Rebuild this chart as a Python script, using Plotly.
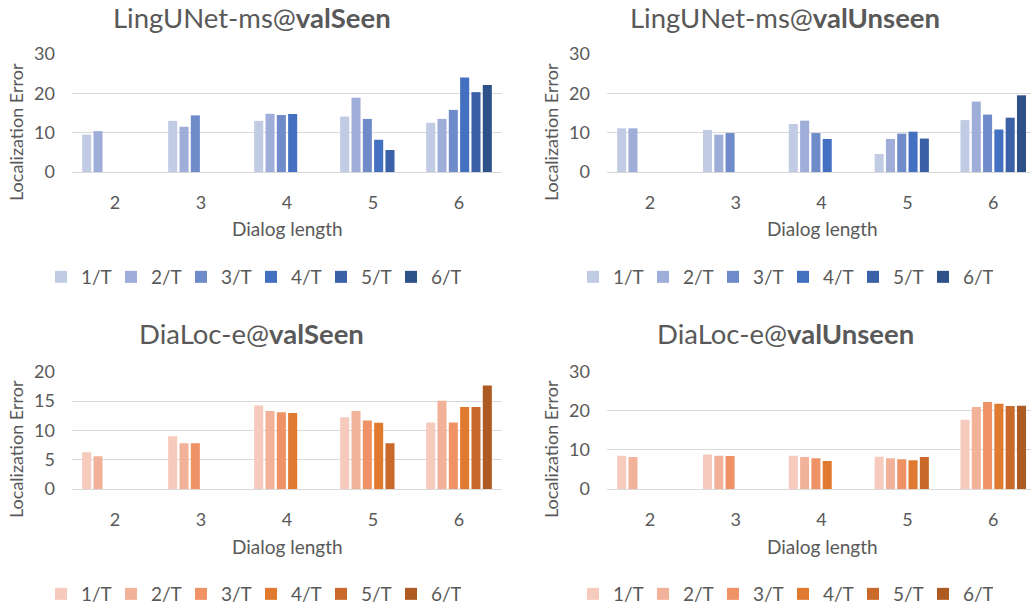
import plotly.graph_objects as go

categories = ["2", "3", "4", "5", "6"]
series_names = ["1/T", "2/T", "3/T", "4/T", "5/T", "6/T"]

# values per series (index = series), across dialog lengths 2..6 (None = not applicable)
lingunet_seen = [
    [9.5, 13.0, 13.0, 14.1, 12.5],
    [10.4, 11.5, 14.8, 18.9, 13.5],
    [None, 14.4, 14.5, 13.5, 15.8],
    [None, None, 14.75, 8.2, 24.0],
    [None, None, None, 5.6, 20.3],
    [None, None, None, None, 22.1],
]
lingunet_unseen = [
    [11.1, 10.7, 12.2, 4.6, 13.2],
    [11.1, 9.5, 13.05, 8.4, 17.9],
    [None, 9.9, 9.9, 9.75, 14.6],
    [None, None, 8.4, 10.25, 10.8],
    [None, None, None, 8.5, 13.8],
    [None, None, None, None, 19.5],
]
dialoc_seen = [
    [6.25, 9.0, 14.25, 12.25, 11.35],
    [5.6, 7.8, 13.3, 13.3, 15.05],
    [None, 7.8, 13.1, 11.7, 11.35],
    [None, None, 12.95, 11.3, 14.0],
    [None, None, None, 7.8, 14.0],
    [None, None, None, None, 17.65],
]
dialoc_unseen = [
    [8.5, 8.85, 8.5, 8.25, 17.7],
    [8.2, 8.5, 8.2, 7.85, 21.0],
    [None, 8.45, 7.85, 7.6, 22.25],
    [None, None, 7.15, 7.35, 21.8],
    [None, None, None, 8.2, 21.2],
    [None, None, None, None, 21.3],
]

blues = ["#c1cbe4", "#9fadd9", "#6f8bca", "#4470c1", "#3a60a7", "#2f5189"]
oranges = ["#f6cbbd", "#f2b299", "#ef9265", "#e07a31", "#c96a2a", "#ad5a23"]

titles = ["LingUNet-ms@<b>valSeen</b>", "LingUNet-ms@<b>valUnseen</b>",
          "DiaLoc-e@<b>valSeen</b>", "DiaLoc-e@<b>valUnseen</b>"]
y_ranges = [[0, 30], [0, 30], [0, 20], [0, 30]]
y_dticks = [10, 10, 5, 10]

W, H = 1031, 609
FONT = "Lato"
TXT = "#595959"
GRID = "#d9d9d9"

def px_x(p):
    return p / W

def px_y(p):
    return 1 - p / H

panels = [
    # (data, colors, x0, x1, xrange_hi, ytop, ybot, title_cx, title_cy, ytitle_cx, ytitle_cy, xtitle_cx, xtitle_cy, legend_cx, legend_cy)
    (lingunet_seen, blues, 72, 502, 4.5, 54, 172, 252, 18, 16, 132, 287, 228, 251, 277),
    (lingunet_unseen, blues, 607, 1031, 4.44, 54, 172, 785, 18, 551, 132, 822, 228, 783, 277),
    (dialoc_seen, oranges, 72, 502, 4.5, 371.7, 489, 251, 333, 16, 449, 287, 546, 251, 594),
    (dialoc_unseen, oranges, 607, 1031, 4.44, 371.7, 489, 785, 333, 551, 449, 822, 546, 783, 594),
]

fig = go.Figure()
annotations = []
layout = {}

for i, (data, colors, x0, x1, xhi, ytop, ybot, tcx, tcy, ytx, yty, xtx, xty, lcx, lcy) in enumerate(panels):
    n = i + 1
    xa = "x" if n == 1 else f"x{n}"
    ya = "y" if n == 1 else f"y{n}"
    lg = "legend" if n == 1 else f"legend{n}"
    for s, name in enumerate(series_names):
        fig.add_trace(go.Bar(
            x=categories, y=data[s], name=name,
            marker=dict(color=colors[s], line=dict(width=0)),
            xaxis=xa, yaxis=ya, legend=lg,
            hovertemplate="%{x}: %{y}<extra>" + name + "</extra>",
        ))
    xkey = "xaxis" if n == 1 else f"xaxis{n}"
    ykey = "yaxis" if n == 1 else f"yaxis{n}"
    layout[xkey] = dict(
        domain=[px_x(x0), min(1.0, px_x(x1))], anchor=ya, type="category", automargin=False,
        range=[-0.5, xhi], showgrid=False, showline=True, linecolor=GRID, linewidth=1,
        ticks="", tickfont=dict(family=FONT, size=18, color=TXT), ticklabelstandoff=14,
        fixedrange=True,
    )
    layout[ykey] = dict(
        domain=[px_y(ybot), px_y(ytop)], anchor=xa, range=y_ranges[i], dtick=y_dticks[i],
        automargin=False,
        showgrid=True, gridcolor=GRID, gridwidth=1, zeroline=False, showline=False,
        ticks="", tickfont=dict(family=FONT, size=18, color=TXT), ticklabelstandoff=16,
        fixedrange=True,
    )
    layout[lg] = dict(
        orientation="h", x=px_x(lcx), xanchor="center", y=px_y(lcy), yanchor="middle",
        font=dict(family=FONT, size=19, color=TXT), itemwidth=30, entrywidth=25,
        bgcolor="rgba(0,0,0,0)", borderwidth=0,
        tracegroupgap=0, itemclick=False, itemdoubleclick=False,
    )
    annotations.append(dict(text=titles[i], x=px_x(tcx), y=px_y(tcy), xref="paper", yref="paper",
                            xanchor="center", yanchor="middle", showarrow=False,
                            font=dict(family=FONT, size=27.5, color=TXT)))
    annotations.append(dict(text="Localization Error", x=px_x(ytx), y=px_y(yty), xref="paper", yref="paper",
                            xanchor="center", yanchor="middle", showarrow=False, textangle=-90,
                            font=dict(family=FONT, size=18, color=TXT)))
    annotations.append(dict(text="Dialog length", x=px_x(xtx), y=px_y(xty), xref="paper", yref="paper",
                            xanchor="center", yanchor="middle", showarrow=False,
                            font=dict(family=FONT, size=19, color=TXT)))

fig.update_layout(
    width=W, height=H, margin=dict(l=0, r=0, t=0, b=0, pad=0, autoexpand=False),
    paper_bgcolor="white", plot_bgcolor="white",
    barmode="group", bargap=0.21, bargroupgap=0.2,
    annotations=annotations, showlegend=True,
    **layout,
)

fig.write_html(
    "out.html",
    config={"displayModeBar": False},
    post_script="document.body.style.margin='0';document.body.style.overflow='hidden';",
)
